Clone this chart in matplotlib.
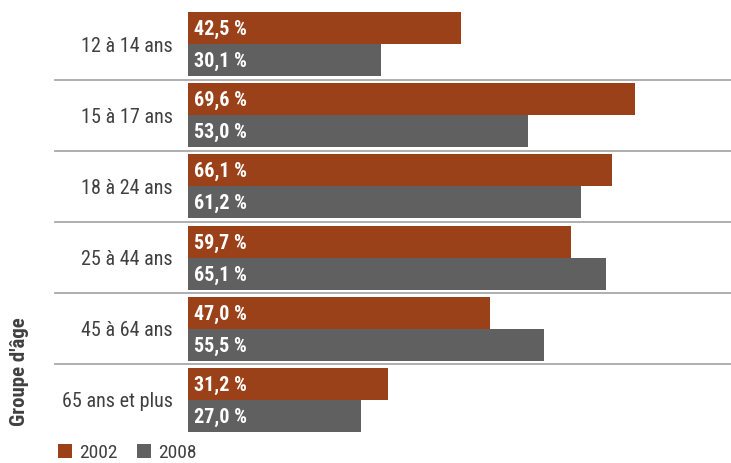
import matplotlib.pyplot as plt
import matplotlib.font_manager as fm

# Données
groupes = ['12 à 14 ans', '15 à 17 ans', '18 à 24 ans', '25 à 44 ans', '45 à 64 ans', '65 ans et plus']
val_2002 = [42.5, 69.6, 66.1, 59.7, 47.0, 31.2]
val_2008 = [30.1, 53.0, 61.2, 65.1, 55.5, 27.0]
series = ['2002', '2008']

orange = '#9B4119'
gris = '#5F605F'
texte = '#404040'

noms = {f.name for f in fm.fontManager.ttflist}
police = 'DejaVu Sans'
for nom in ['Roboto Condensed', 'Liberation Sans Narrow', 'Open Sans Condensed']:
    if nom in noms:
        police = nom
        break
plt.rcParams['font.family'] = police

fig = plt.figure(figsize=(7.31, 4.63), dpi=100)
ax = fig.add_axes([188 / 731, 27.5 / 463, 543 / 731, 427 / 463])

h = 0.45
pos = list(range(len(groupes)))
ax.barh([p - h / 2 for p in pos], val_2002, height=h, color=orange, label=series[0])
ax.barh([p + h / 2 for p in pos], val_2008, height=h, color=gris, label=series[1])

for p, v in zip(pos, val_2002):
    ax.text(0.9, p - h / 2 + 0.02, f'{v:.1f} %'.replace('.', ','), color='white',
            fontweight='bold', fontsize=14.5, va='center', ha='left')
for p, v in zip(pos, val_2008):
    ax.text(0.9, p + h / 2 + 0.02, f'{v:.1f} %'.replace('.', ','), color='white',
            fontweight='bold', fontsize=14.5, va='center', ha='left')

for p in pos[:-1]:
    ax.axhline(p + 0.5, xmin=(55 - 188) / 543, xmax=1, color='#A8A8A8',
               lw=1.3, clip_on=False)

ax.set_xlim(0, 543 / 6.42)
ax.set_ylim(5.5, -0.5)
ax.set_yticks(pos)
ax.set_yticklabels(groupes, fontsize=14.5, color=texte)
ax.tick_params(axis='y', length=0, pad=11)
ax.set_xticks([])
for s in ax.spines.values():
    s.set_visible(False)

fig.text(20 / 731, 1 - 372 / 463, "Groupe d'âge", rotation=90, fontsize=15,
         fontweight='bold', color=texte, ha='center', va='center')

leg = fig.legend(loc='lower left', bbox_to_anchor=(40 / 731, -16 / 463), ncol=2,
                 frameon=False, fontsize=14, handlelength=0.75, handleheight=0.75,
                 handletextpad=0.35, columnspacing=1.0)
for t in leg.get_texts():
    t.set_color(texte)

fig.savefig('out.png', dpi=100)
